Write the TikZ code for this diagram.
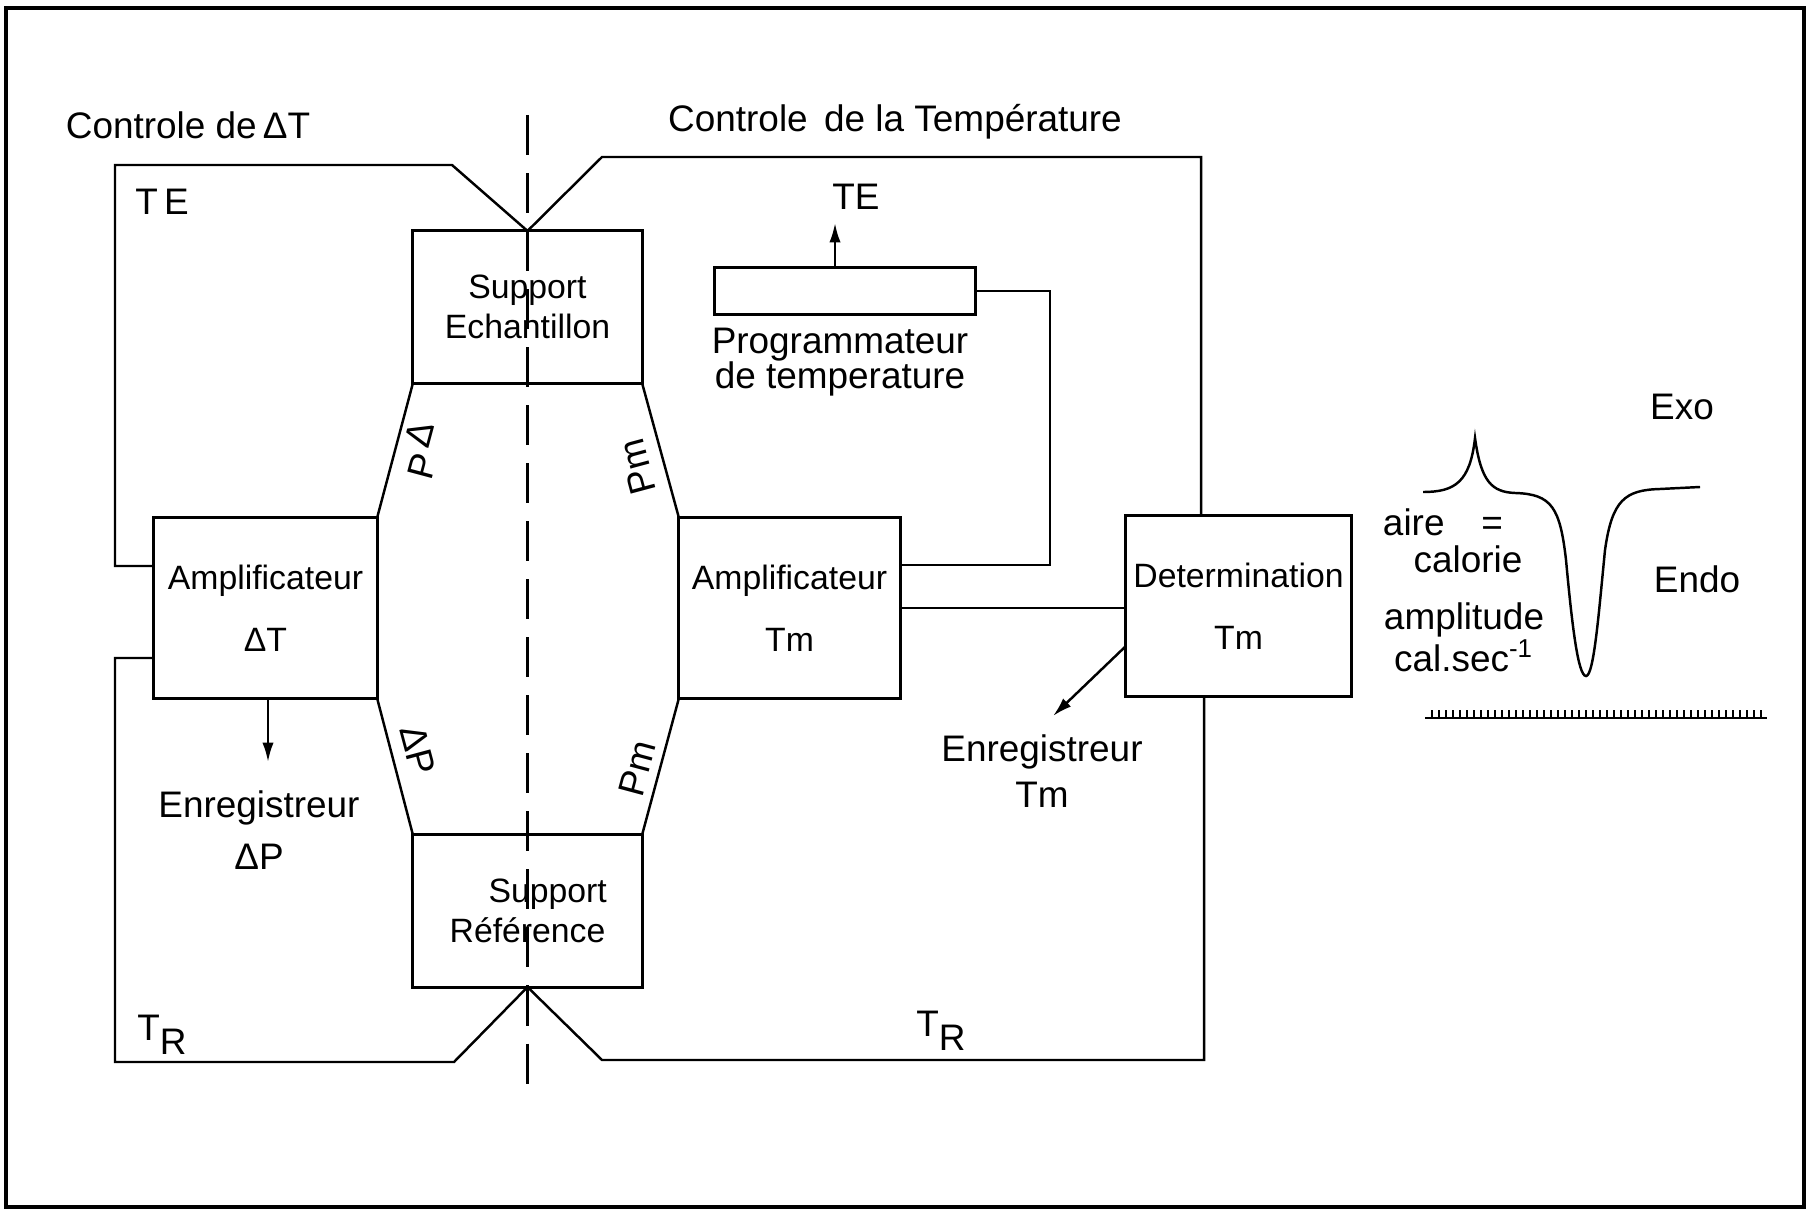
\documentclass[tikz,border=0pt]{standalone}
\usepackage{fontspec}
\setmainfont{Liberation Sans}
\usetikzlibrary{arrows.meta}
\begin{document}
\begin{tikzpicture}[x=0.01cm, y=-0.01cm,
		lbl/.style={font=\fontsize{10.5}{12}\selectfont, align=center, inner sep=1pt},
		box/.style={lbl, draw, font=\fontsize{9.6}{11.5}\selectfont, line width=.085em, outer sep=0pt},
		wire/.style={line width=.07em},
		tip/.style={-{Latex[length=.55em, width=.32em]}, line width=.07em}]
	\useasboundingbox (0,0) rectangle (1810,1213);
	\draw[line width=.12em] (6,8) rectangle (1804,1207);
	\draw[wire, dash pattern=on .4cm off .18cm] (527.5,115) -- (527.5,1097);
	\node[box, minimum width=2.29cm, minimum height=1.52cm] (echant) at (527.5,307) {Support\\Echantillon};
	\node[box, minimum width=2.29cm, minimum height=1.52cm] (refer) at (527.5,911) {\hspace*{1.2em}Support\\Référence};
	\node[box, minimum width=2.23cm, minimum height=1.80cm] (ampdt) at (265.5,608) {Amplificateur\\[6pt]ΔT};
	\node[box, minimum width=2.21cm, minimum height=1.80cm] (amptm) at (789.5,608) {Amplificateur\\[6pt]Tm};
	\node[box, minimum width=2.25cm, minimum height=1.80cm] (det) at (1238.5,606) {Determination\\[6pt]Tm};
	\node[box, minimum width=2.60cm, minimum height=.46cm] (prog) at (845,291) {};
	\node[lbl] (ctrldt) at (188,125) {Controle de\,ΔT};
	\node[lbl] (ctrltemp) at (895,122) {Controle\, de la Température};
	\node[lbl] (te1) at (162,202) {T\,E};
	\node[lbl] (te2) at (856,197) {TE};
	\node[lbl] (tr1) at (162,1035) {T\raisebox{-.7ex}{R}};
	\node[lbl] (tr2) at (941,1031) {T\raisebox{-.7ex}{R}};
	\node[lbl, font=\fontsize{10.5}{10}\selectfont] (progtext) at (840,362) {Programmateur\\de temperature};
	\node[lbl, rotate=75] (dpa1) at (419,434) {Δ};
	\node[lbl, rotate=75] (dpa2) at (422,466) {P};
	\node[lbl, rotate=-75] (dpb) at (418,750) {ΔP};
	\node[lbl, rotate=105] (pma) at (637,467) {Pm};
	\node[lbl, rotate=75] (pmb) at (637,768) {Pm};
	\node[lbl] (regdp) at (259,830) {Enregistreur\\[3pt]ΔP};
	\node[lbl] (regtm) at (1042,771) {Enregistreur\\[1pt]Tm};
	\node[lbl] (exo) at (1682,407) {Exo};
	\node[lbl] (endo) at (1697,579) {Endo};
	\node[lbl] (aire) at (1443,522) {aire\quad =};
	\node[lbl] (calorie) at (1468,559) {calorie};
	\node[lbl] (ampl) at (1464,637) {amplitude\\cal.sec\textsuperscript{-1}};
	\draw[wire] (echant.south west) -- (ampdt.north east);
	\draw[wire] (echant.south east) -- (amptm.north west);
	\draw[wire] (ampdt.south east) -- (refer.north west);
	\draw[wire] (amptm.south west) -- (refer.north east);
	\draw[wire] (echant.north) -- (452,165) -- (115,165) |- (ampdt.west |- 0,566);
	\draw[wire] (echant.north) -- (602,157) -- (1201,157) -- (1201,0 |- det.north);
	\draw[wire] (ampdt.west |- 0,658) -- (115,658) -- (115,1062) -- (454,1062) -- (refer.south);
	\draw[wire] (refer.south) -- (602,1060) -- (1204,1060) -- (1204,0 |- det.south);
	\draw[wire] (prog.east) -- (1050,291) |- (amptm.east |- 0,565);
	\draw[wire] (amptm.east) -- (amptm.east -| det.west);
	\draw[tip] (835,0 |- prog.north) -- (835,223);
	\draw[tip] (det.west |- 0,646) -- (1053,716);
	\draw[tip] (268,0 |- ampdt.south) -- (268,762);
	\draw[wire] (1423,492) .. controls (1455,492) and (1470,482) .. (1475,438)
		.. controls (1481,482) and (1492,492) .. (1515,493)
		.. controls (1552,494) and (1560,508) .. (1566,560)
		.. controls (1572,625) and (1578,676) .. (1586,676)
		.. controls (1594,676) and (1599,610) .. (1605,550)
		.. controls (1612,500) and (1625,490) .. (1660,489) -- (1700,487);
	\draw[wire] (1425,718) -- (1767,718);
	\foreach \i in {0, 1, ..., 47}
		{
			\draw[line width=.05em] ({1432 + 7*\i},718) -- ++(0,-8);
		}
\end{tikzpicture}
\end{document}
